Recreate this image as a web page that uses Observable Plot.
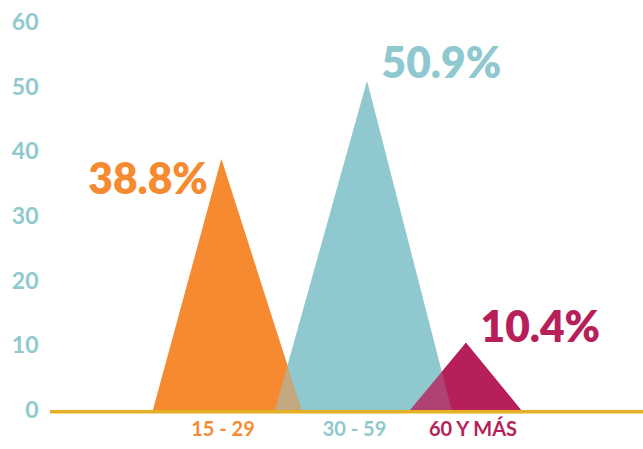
<!DOCTYPE html>
<html>
<head>
<meta charset="utf-8">
<script src="https://cdn.jsdelivr.net/npm/d3@7"></script>
<script src="https://cdn.jsdelivr.net/npm/@observablehq/plot@0.6"></script>
<style>
  html, body { margin: 0; padding: 0; background: #fff; }
</style>
</head>
<body>
<div id="chart"></div>
<script>
// ---- data ----
const categories = ["15 - 29", "30 - 59", "60 Y MÁS"];
const values = [38.8, 50.9, 10.4];
const valueLabels = ["38.8%", "50.9%", "10.4%"];
const yTicks = [0, 10, 20, 30, 40, 50, 60];

// ---- styles / layout (x in abstract units 0..10) ----
const colors = ["#F58A31", "#8FC9CF", "#B71F5B"];
const axisColor = "#8FC9CF";
const baseColor = "#E5B124";
const shape = [
  { left: 1.737, apex: 2.89, right: 4.245, labelX: 2.908, dx: -14, dy: 21, anchor: "end" },
  { left: 3.794, apex: 5.346, right: 6.774, labelX: 5.126, dx: 14, dy: -17, anchor: "start" },
  { left: 6.071, apex: 7.015, right: 7.943, labelX: 7.125, dx: 14, dy: -15, anchor: "start" }
];

const rows = categories.map((c, i) => ({ category: c, value: values[i], label: valueLabels[i], color: colors[i], ...shape[i] }));

function tri(r) {
  return [
    { x: r.left, y: 0 },
    { x: r.apex, y: r.value },
    { x: r.right, y: 0 }
  ];
}

const font = "Lato, 'Open Sans', sans-serif";
const [orange, teal, pink] = rows;

const marks = [
  Plot.areaY(tri(orange), { x: "x", y: "y", fill: orange.color }),
  Plot.areaY(tri(pink), { x: "x", y: "y", fill: pink.color }),
  Plot.areaY(tri(teal), { x: "x", y: "y", fill: teal.color }),
  Plot.areaY(tri(orange), { x: "x", y: "y", fill: orange.color, fillOpacity: 0.5 }),
  Plot.areaY(tri(pink), { x: "x", y: "y", fill: pink.color, fillOpacity: 0.8 }),
  Plot.ruleY([0], { stroke: baseColor, strokeWidth: 3.5, dy: 1.2 }),
  // y tick labels
  Plot.text(yTicks, {
    y: d => d, text: d => String(d), frameAnchor: "left", dx: -12, textAnchor: "end",
    fill: axisColor, fontSize: 23, fontWeight: 700, fontFamily: font
  }),
  // category labels
  Plot.text(rows, {
    x: "labelX", text: "category", frameAnchor: "bottom", dy: 25,
    fill: d => d.color, fontSize: 20, fontWeight: 700, fontFamily: font
  }),
  // value labels
  ...rows.map(r => Plot.text([r], {
    x: "apex", y: "value", text: "label", dx: r.dx, dy: r.dy, textAnchor: r.anchor,
    fill: r.color, fontSize: 42.5, fontWeight: 800, fontFamily: font
  }))
];

const chart = Plot.plot({
  width: 643,
  height: 449,
  marginLeft: 50,
  marginRight: 0,
  marginTop: 22,
  marginBottom: 39,
  x: { domain: [0, 10], axis: null },
  y: { domain: [0, 60], axis: null },
  color: { type: "identity" },
  style: { fontFamily: font, background: "#fff", overflow: "visible" },
  marks
});
document.getElementById("chart").appendChild(chart);
</script>
</body>
</html>
